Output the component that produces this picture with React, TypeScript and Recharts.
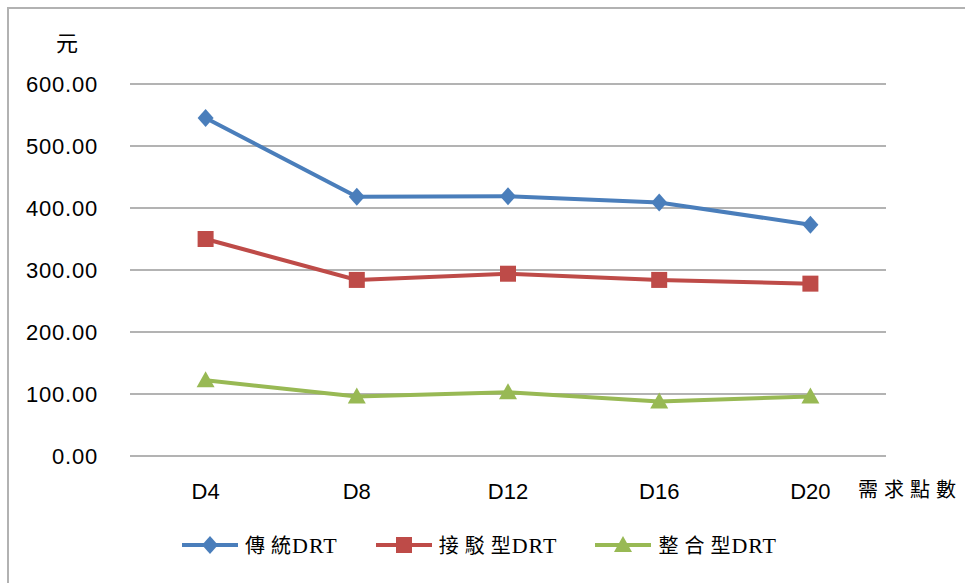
import React from 'react';
import { LineChart, Line, XAxis, YAxis, CartesianGrid, Legend } from 'recharts';

// Demand-point categories along the x axis
const categories = ['D4', 'D8', 'D12', 'D16', 'D20'];

// Cost (元) per series
const traditional = [545, 418, 419, 409, 373];
const shuttle = [350, 284, 294, 284, 278];
const integrated = [122, 96, 103, 88, 96];

const yTicks = [0, 100, 200, 300, 400, 500, 600];

const seriesNames = ['傳統DRT', '接駁型DRT', '整合型DRT'];
const seriesColors = ['#4A7EBB', '#BE4B48', '#98B954'];
const seriesShapes = ['diamond', 'square', 'triangle'];

const data = categories.map((cat, i) => ({
  cat,
  s0: traditional[i],
  s1: shuttle[i],
  s2: integrated[i],
}));

const CJK_SERIF = '"Liberation Serif", "Noto Sans CJK TC", serif';
const SANS = '"Liberation Sans", Arial, sans-serif';

// Half of one category slot, so points sit in the middle of each slot
const SLOT_PAD = 75.6;

function Marker({ shape, cx, cy, color }: { shape: string; cx: number; cy: number; color: string }) {
  if (shape === 'diamond') {
    return (
      <polygon
        points={`${cx},${cy - 9} ${cx + 8},${cy} ${cx},${cy + 9} ${cx - 8},${cy}`}
        fill={color}
      />
    );
  }
  if (shape === 'square') {
    return <rect x={cx - 8} y={cy - 8} width={16} height={16} fill={color} />;
  }
  return (
    <polygon
      points={`${cx},${cy - 9} ${cx + 9},${cy + 7} ${cx - 9},${cy + 7}`}
      fill={color}
    />
  );
}

const makeDot = (idx: number) => (props: any) => {
  const { cx, cy, index } = props;
  if (cx == null || cy == null) return <g key={`d${idx}-${index}`} />;
  return (
    <Marker
      key={`d${idx}-${index}`}
      shape={seriesShapes[idx]}
      cx={cx}
      cy={cy}
      color={seriesColors[idx]}
    />
  );
};

// Legend label: CJK part spaced out, latin suffix kept tight
function LegendLabel({ name }: { name: string }) {
  const m = name.match(/^(.*?)([A-Za-z]+)$/);
  const cjk = m ? m[1] : name;
  const latin = m ? m[2] : '';
  const chars = Array.from(cjk);
  return (
    <span style={{ whiteSpace: 'nowrap' }}>
      {chars.map((ch, k) => (
        <span key={k} style={{ marginRight: k < chars.length - 1 ? 6 : 1 }}>
          {ch}
        </span>
      ))}
      <span style={{ fontSize: 22, letterSpacing: 1 }}>{latin}</span>
    </span>
  );
}

function LegendContent() {
  return (
    <div
      style={{
        display: 'flex',
        alignItems: 'center',
        paddingLeft: 182,
        fontFamily: CJK_SERIF,
        fontSize: 20,
        color: '#000',
      }}
    >
      {seriesNames.map((name, i) => (
        <div
          key={name}
          style={{ display: 'flex', alignItems: 'center', marginRight: i < 2 ? 38 : 0 }}
        >
          <svg width={56} height={20} style={{ marginRight: 7 }}>
            <line x1={0} y1={10} x2={56} y2={10} stroke={seriesColors[i]} strokeWidth={4} />
            <Marker shape={seriesShapes[i]} cx={28} cy={10} color={seriesColors[i]} />
          </svg>
          <LegendLabel name={name} />
        </div>
      ))}
    </div>
  );
}

export default function App() {
  return (
    <div
      style={{
        position: 'absolute',
        left: 0,
        top: 0,
        width: 965,
        height: 583,
        background: '#fff',
        overflow: 'hidden',
      }}
    >
      <LineChart
        width={965}
        height={583}
        data={data}
        margin={{ top: 84, right: 79, bottom: 73, left: 0 }}
      >
        <CartesianGrid
          horizontal
          vertical={false}
          stroke="#9a9a9a"
          strokeWidth={1.5}
        />
        <XAxis
          dataKey="cat"
          axisLine={false}
          tickLine={false}
          tickSize={0}
          tickMargin={27}
          interval={0}
          padding={{ left: SLOT_PAD, right: SLOT_PAD }}
          tick={{ fill: '#000', fontSize: 22, fontFamily: SANS }}
          label={{
            content: (p: any) => {
              const vb = p.viewBox || { x: 130, y: 456, width: 756 };
              return (
                <text
                  x={vb.x + vb.width - 28}
                  y={vb.y + 41}
                  fontSize={20}
                  fontFamily={CJK_SERIF}
                  letterSpacing={6}
                  fill="#000"
                >
                  需求點數
                </text>
              );
            },
          }}
        />
        <YAxis
          width={130}
          domain={[0, 600]}
          ticks={yTicks}
          axisLine={false}
          tickLine={false}
          tickSize={0}
          tickMargin={32}
          tickFormatter={(v: number) => v.toFixed(2)}
          tick={{ fill: '#000', fontSize: 22, fontFamily: SANS, letterSpacing: 0.8 }}
          label={{
            content: (p: any) => {
              const vb = p.viewBox || { x: 0, y: 84 };
              return (
                <text
                  x={vb.x + 67}
                  y={vb.y - 33}
                  textAnchor="middle"
                  fontSize={22}
                  fontFamily={CJK_SERIF}
                  fill="#000"
                >
                  元
                </text>
              );
            },
          }}
        />
        <Legend
          verticalAlign="bottom"
          content={<LegendContent />}
          wrapperStyle={{ left: 0, top: 530, width: 965, height: 24 }}
        />
        {seriesNames.map((name, i) => (
          <Line
            key={name}
            type="linear"
            dataKey={`s${i}`}
            name={name}
            stroke={seriesColors[i]}
            strokeWidth={4}
            dot={makeDot(i)}
            activeDot={false}
            isAnimationActive={false}
          />
        ))}
      </LineChart>
      <div
        style={{
          position: 'absolute',
          left: 7,
          top: 7,
          right: 0,
          bottom: 0,
          borderLeft: '2px solid #b2b2b2',
          borderTop: '2px solid #b2b2b2',
          pointerEvents: 'none',
        }}
      />
    </div>
  );
}
